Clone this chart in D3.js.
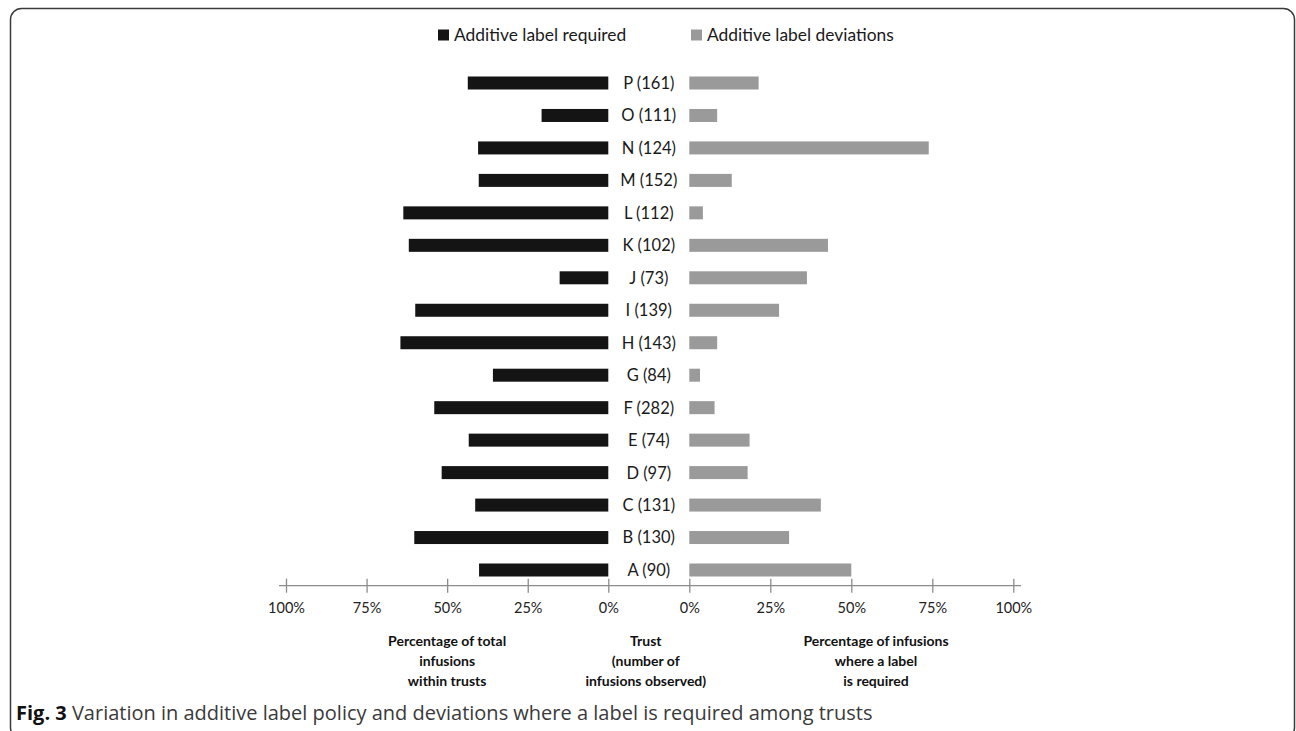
<!DOCTYPE html>
<html><head><meta charset="utf-8">
<script src="https://cdn.jsdelivr.net/npm/d3@7"></script>
<style>
html,body{margin:0;padding:0;background:#fff;}
svg{display:block;}
</style></head>
<body>
<svg id="chart" width="1296" height="731"></svg>
<script>
// ---- data ----
const trusts = ["A","B","C","D","E","F","G","H","I","J","K","L","M","N","O","P"];
const observed = [90,130,131,97,74,282,84,143,139,73,102,112,152,124,111,161];
const labelRequired = [40.1,60.2,41.3,51.7,43.3,54.0,35.8,64.5,59.9,15.1,61.9,63.6,40.2,40.4,20.7,43.6];
const labelDeviations = [50.0,30.8,40.6,18.0,18.6,7.8,3.3,8.6,27.7,36.3,42.8,4.2,13.1,73.9,8.6,21.4];
const tickValues = [0,25,50,75,100];
const seriesNames = ["Additive label required","Additive label deviations"];
const leftTitle = ["Percentage of total","infusions","within trusts"];
const midTitle = ["Trust","(number of","infusions observed)"];
const rightTitle = ["Percentage of infusions","where a label","is required"];
const captionBold = "Fig. 3";
const captionText = " Variation in additive label policy and deviations where a label is required among trusts";

const svg = d3.select("#chart").style("font-family","Lato, sans-serif");
const colors = ["#141414","#9a9a9a"];

// frame
svg.append("rect").attr("x",10.5).attr("y",8.5).attr("width",1284).attr("height",730)
  .attr("rx",11).attr("fill","none").attr("stroke","#3a3a3a").attr("stroke-width",1.5);

const rows = trusts.map((t,i)=>({t, n:observed[i], req:labelRequired[i], dev:labelDeviations[i]}));

const xL = d3.scaleLinear().domain([0,100]).range([608.3,286]);
const xR = d3.scaleLinear().domain([0,100]).range([689.3,1013.3]);
const y = d3.scalePoint().domain(trusts.slice().reverse()).range([83,570]);
const barH = 13;
const axisY = 585.7;

// axis line
svg.append("line").attr("x1",279).attr("x2",1021).attr("y1",axisY).attr("y2",axisY)
  .attr("stroke","#8c8c8c").attr("stroke-width",1.3);

function drawAxis(scale){
  const g = svg.append("g").attr("transform",`translate(0,${axisY})`)
    .call(d3.axisBottom(scale).tickValues(tickValues).tickFormat(d=>d+"%").tickSize(7).tickPadding(14));
  g.attr("font-family",null).attr("font-size",null);
  g.select(".domain").remove();
  g.selectAll(".tick line").attr("y1",-7).attr("y2",7).attr("stroke","#8c8c8c").attr("stroke-width",1.3);
  g.selectAll(".tick text").style("font-family","Lato, sans-serif").style("font-size","14.5px").attr("fill","#222")
   .attr("dy","0.71em").attr("y",17);
}
drawAxis(xL);
drawAxis(xR);

// bars
svg.append("g").selectAll("rect").data(rows).join("rect")
  .attr("x",d=>xL(d.req)).attr("width",d=>xL(0)-xL(d.req))
  .attr("y",d=>y(d.t)-barH/2).attr("height",barH).attr("fill",colors[0]);
svg.append("g").selectAll("rect").data(rows).join("rect")
  .attr("x",xR(0)).attr("width",d=>xR(d.dev)-xR(0))
  .attr("y",d=>y(d.t)-barH/2).attr("height",barH).attr("fill",colors[1]);

// row labels
const midX = (xL(0)+xR(0))/2;
svg.append("g").selectAll("text").data(rows).join("text")
  .attr("x",midX).attr("y",d=>y(d.t)).attr("dy","0.36em")
  .attr("text-anchor","middle").style("font-size","16.5px").attr("fill","#1a1a1a")
  .text(d=>`${d.t} (${d.n})`);

// legend
const legX = [438, 691];
seriesNames.forEach((s,i)=>{
  svg.append("rect").attr("x",legX[i]).attr("y",29.5).attr("width",11).attr("height",11).attr("fill",colors[i]);
  svg.append("text").attr("x",legX[i]+16).attr("y",35).attr("dy","0.36em")
    .style("font-size","17.4px").attr("fill","#1a1a1a").text(s);
});

// titles
function title(lines, cx){
  const t = svg.append("text").attr("text-anchor","middle").attr("font-weight","bold")
    .style("font-size","14px").attr("fill","#111");
  lines.forEach((l,i)=>t.append("tspan").attr("x",cx).attr("y",646+i*20).text(l));
}
title(leftTitle, xL(50));
title(midTitle, midX-3);
title(rightTitle, 876);

// caption
const cap = svg.append("text").attr("x",16).attr("y",719.5)
  .style("font-family","'Open Sans', sans-serif").style("font-size","20px").attr("fill","#3a3a3a");
cap.append("tspan").attr("font-weight","bold").attr("fill","#111").text(captionBold);
cap.append("tspan").text(captionText);
</script>
</body></html>
